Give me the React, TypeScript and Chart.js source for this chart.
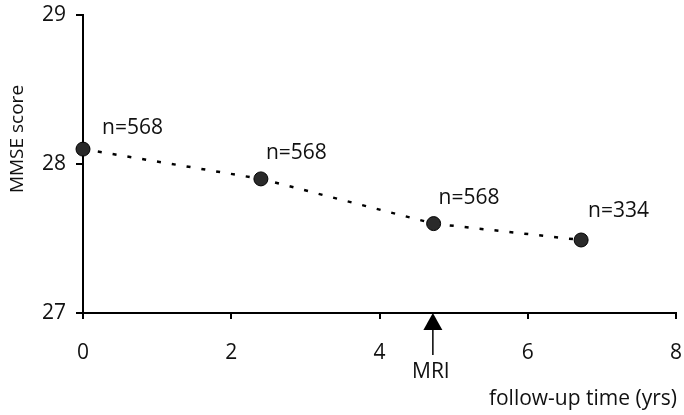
import React, { useEffect, useRef } from "react";
import { Chart, registerables } from "chart.js";

Chart.register(...registerables);

const followUpYears = [0, 2.4, 4.73, 6.72];
const mmseScores = [28.1, 27.9, 27.6, 27.49];
const nLabels = ["n=568", "n=568", "n=568", "n=334"];
const xTickValues = [0, 2, 4, 6, 8];
const yTickValues = [27, 28, 29];
const mriTime = 4.72;
const mriLabel = "MRI";
const xTitle = "follow-up time (yrs)";
const yTitle = "MMSE score";

const FONT = "'Open Sans', 'DejaVu Sans', sans-serif";
const INK = "#111";

const labelOffsets = [
  { dx: 19, dy: -15 },
  { dx: 5, dy: -20 },
  { dx: 5, dy: -20 },
  { dx: 7, dy: -23 },
];

const annotationPlugin = {
  id: "annot",
  afterDraw(chart: any) {
    const ctx = chart.ctx;
    const xs = chart.scales.x;
    const ys = chart.scales.y;
    const meta = chart.getDatasetMeta(0);
    ctx.save();
    ctx.fillStyle = INK;
    ctx.font = `21px ${FONT}`;
    ctx.textAlign = "left";
    ctx.textBaseline = "alphabetic";
    meta.data.forEach((pt: any, i: number) => {
      const o = labelOffsets[i];
      ctx.fillText(nLabels[i], pt.x + o.dx, pt.y + o.dy);
    });

    // MRI arrow
    const mx = xs.getPixelForValue(mriTime);
    const axisY = ys.getPixelForValue(27);
    ctx.beginPath();
    ctx.moveTo(mx, axisY);
    ctx.lineTo(mx - 9.5, axisY + 17);
    ctx.lineTo(mx + 9.5, axisY + 17);
    ctx.closePath();
    ctx.fillStyle = "#000";
    ctx.fill();
    ctx.beginPath();
    ctx.moveTo(mx, axisY + 17);
    ctx.lineTo(mx, axisY + 42);
    ctx.strokeStyle = "#000";
    ctx.lineWidth = 1.5;
    ctx.stroke();
    ctx.fillStyle = INK;
    ctx.font = `21px ${FONT}`;
    ctx.textAlign = "center";
    ctx.fillText(mriLabel, mx - 2, axisY + 65);

    // x title
    ctx.textAlign = "right";
    ctx.fillText(xTitle, xs.right + 1, axisY + 92);

    // y title
    ctx.save();
    ctx.translate(23, 139);
    ctx.rotate(-Math.PI / 2);
    ctx.font = `19px ${FONT}`;
    ctx.textAlign = "center";
    ctx.fillText(yTitle, 0, 0);
    ctx.restore();
    ctx.restore();
  },
};

export default function App() {
  const ref = useRef<HTMLCanvasElement | null>(null);
  useEffect(() => {
    document.body.style.margin = "0";
    const canvas = ref.current!;
    const chart = new Chart(canvas, {
      type: "line",
      data: {
        datasets: [
          {
            data: followUpYears.map((t, i) => ({ x: t, y: mmseScores[i] })),
            borderColor: "#000",
            borderWidth: 2.5,
            borderDash: [4, 11],
            backgroundColor: "#2a2a2a",
            pointBorderColor: "#000",
            pointBorderWidth: 1,
            pointRadius: 7,
            showLine: true,
            tension: 0,
            clip: false as any,
          },
        ],
      },
      options: {
        animation: false,
        responsive: false,
        events: [],
        layout: { padding: { top: 15, right: 6, left: 0, bottom: 0 } },
        plugins: { legend: { display: false }, tooltip: { enabled: false } },
        scales: {
          x: {
            type: "linear",
            min: 0,
            max: 8,
            afterBuildTicks: (s: any) => {
              s.ticks = xTickValues.map((v) => ({ value: v }));
            },
            afterFit: (s: any) => {
              s.height = 102;
              s.paddingLeft = 0;
              s.paddingRight = 0;
              s.paddingTop = 0;
              s.paddingBottom = 0;
            },
            ticks: { color: INK, font: { family: FONT, size: 21 }, padding: 21, maxRotation: 0 },
            grid: { drawOnChartArea: false, drawTicks: true, tickLength: 6, color: "#000", lineWidth: 2 },
            border: { color: "#000", width: 2 },
          },
          y: {
            min: 27,
            max: 29,
            afterBuildTicks: (s: any) => {
              s.ticks = yTickValues.map((v) => ({ value: v }));
            },
            afterFit: (s: any) => {
              s.width = 83;
              s.paddingLeft = 0;
              s.paddingRight = 0;
              s.paddingTop = 0;
              s.paddingBottom = 0;
            },
            ticks: { color: INK, font: { family: FONT, size: 21 }, padding: 10 },
            grid: { drawOnChartArea: false, drawTicks: true, tickLength: 7, color: "#000", lineWidth: 2 },
            border: { color: "#000", width: 2 },
          },
        },
      },
      plugins: [annotationPlugin],
    });
    return () => chart.destroy();
  }, []);
  return (
    <div style={{ position: "fixed", left: 0, top: 0, width: 684, height: 415 }}>
      <canvas ref={ref} width={684} height={415} />
    </div>
  );
}
